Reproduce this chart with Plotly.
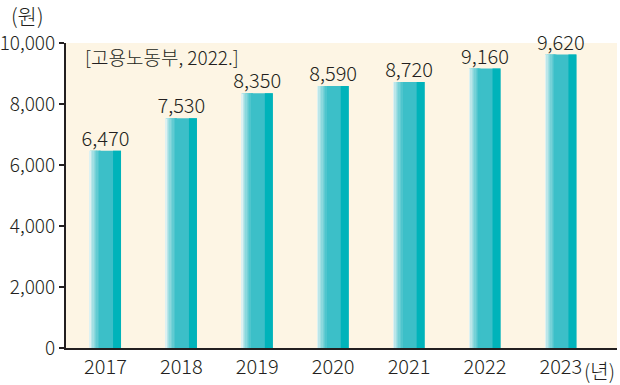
import plotly.graph_objects as go

years = ["2017", "2018", "2019", "2020", "2021", "2022", "2023"]
wages = [6470, 7530, 8350, 8590, 8720, 9160, 9620]
y_ticks = [0, 2000, 4000, 6000, 8000, 10000]
y_ticktext = ["0", "2,000", "4,000", "6,000", "8,000", "10,000"]

xpos = list(range(len(years)))
FONT = "Noto Sans CJK KR"
TXT = "#231F20"
BW = 0.41

def mix(c1, c2, t):
    a = [int(c1[i:i+2], 16) for i in (1, 3, 5)]
    b = [int(c2[i:i+2], 16) for i in (1, 3, 5)]
    return "#%02X%02X%02X" % tuple(round(a[k] + (b[k] - a[k]) * t) for k in range(3))

fig = go.Figure()
fig.add_trace(go.Bar(x=xpos, y=wages, width=BW, marker=dict(color="#3CBFC8", line=dict(width=0)),
                     hoverinfo="skip", showlegend=False))
n = 8
sw = 0.018
for i in range(n):
    t = i / (n - 1)
    fig.add_trace(go.Bar(x=xpos, y=wages, width=sw + 0.002, offset=-BW / 2 + i * sw,
                         marker=dict(color=mix("#DDF1F2", "#3CBFC8", t ** 0.8), line=dict(width=0)),
                         hoverinfo="skip", showlegend=False))
fig.add_trace(go.Bar(x=xpos, y=wages, width=0.105, offset=BW / 2 - 0.105,
                     marker=dict(color="#00B3BA", line=dict(width=0)),
                     hoverinfo="skip", showlegend=False))
fig.add_trace(go.Scatter(x=xpos, y=wages, mode="text", text=[f"{v:,}" for v in wages],
                         textposition="top center",
                         textfont=dict(family=FONT, size=20, color=TXT, weight=300),
                         hoverinfo="skip", showlegend=False, cliponaxis=False))

fig.update_layout(
    width=620, height=385, barmode="overlay",
    margin=dict(l=66, r=3, t=43, b=37, autoexpand=False),
    paper_bgcolor="white", plot_bgcolor="#FDF5E4",
    font=dict(family=FONT, size=20, color=TXT, weight=300),
    xaxis=dict(range=[-0.52, 6.74], tickmode="array", tickvals=xpos, ticktext=years,
               showline=True, linewidth=2, linecolor=TXT, ticks="", showgrid=False,
               zeroline=False, automargin=False,
               tickfont=dict(size=20, color=TXT, weight=300)),
    yaxis=dict(range=[0, 10000], tickmode="array", tickvals=y_ticks, ticktext=y_ticktext,
               showline=True, linewidth=2, linecolor=TXT, ticks="outside", ticklen=5,
               tickwidth=2, tickcolor=TXT, showgrid=False, zeroline=False, automargin=False,
               ticklabelstandoff=0, tickfont=dict(size=19, color=TXT, weight=300)),
    annotations=[
        dict(text="(원)", xref="paper", yref="paper", x=0, xshift=-57, y=1.0, yshift=11,
             xanchor="left", yanchor="bottom", showarrow=False,
             font=dict(size=21, color=TXT, weight=300)),
        dict(text="[고용노동부, 2022.]", xref="paper", yref="paper", x=0.03, y=1.0, yshift=2,
             xanchor="left", yanchor="top", showarrow=False,
             font=dict(size=19, color=TXT, weight=300)),
        dict(text="(년)", xref="paper", yref="paper", x=1.0, y=0, yshift=-6,
             xanchor="right", yanchor="top", showarrow=False,
             font=dict(size=20, color=TXT, weight=300)),
    ],
)

fig.write_html("out.html", config={"displayModeBar": False},
               post_script="document.body.style.margin='0';document.body.style.overflow='hidden';")
